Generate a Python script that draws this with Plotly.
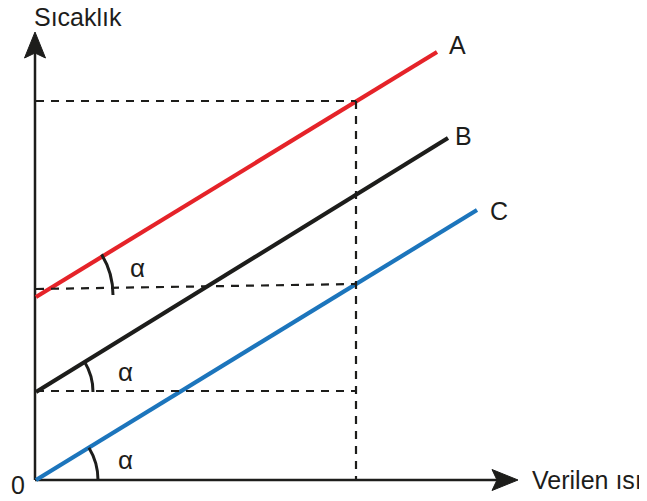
import math
import plotly.graph_objects as go

# Lines: given heat (x) vs temperature (y), one unit = 10 px of the drawing
line_names = ["A", "B", "C"]
line_colors = ["#E52329", "#1D1D1B", "#1C75BC"]
a_x = [0, 40.1]
a_y = [18.3, 42.8]
b_x = [0, 41.2]
b_y = [8.8, 34.2]
c_x = [0, 44.1]
c_y = [0, 27.0]

# reference heat and temperature levels for the dashed guides
q_mark = 32.0
level_top = 37.9
level_mid = [19.1, 19.6]
level_low = 8.9

x_title = "Verilen ısı"
y_title = "Sıcaklık"

fig = go.Figure()

for name, xs, ys, col in zip(line_names, [a_x, b_x, c_x], [a_y, b_y, c_y], line_colors):
    fig.add_trace(go.Scatter(x=xs, y=ys, mode="lines", name=name,
                             line=dict(color=col, width=4.2), hoverinfo="skip"))

dash = dict(color="#1D1D1B", width=2.2, dash="8px,7px")
guides = [
    ([0, q_mark], [level_top, level_top]),
    ([0, q_mark], level_mid),
    ([0, q_mark], [level_low, level_low]),
    ([q_mark, q_mark], [level_top, 0]),
]
for gx, gy in guides:
    fig.add_trace(go.Scatter(x=gx, y=gy, mode="lines", line=dash, hoverinfo="skip"))

shapes = []
ax_line = dict(color="#1D1D1B", width=2.5)
shapes.append(dict(type="line", x0=-0.1, y0=0, x1=-0.1, y1=43.0, line=ax_line, layer="below"))
shapes.append(dict(type="line", x0=-0.1, y0=0, x1=46.5, y1=0, line=ax_line, layer="below"))
# arrow heads
shapes.append(dict(type="path", path="M -0.1 44.8 L -1.15 42.2 L -0.1 42.7 L 0.95 42.2 Z",
                   fillcolor="#1D1D1B", line=dict(color="#1D1D1B", width=1)))
shapes.append(dict(type="path", path="M 48.2 0 L 45.6 1.05 L 46.1 0 L 45.6 -1.05 Z",
                   fillcolor="#1D1D1B", line=dict(color="#1D1D1B", width=1)))

# angle arcs (quadratic bezier approximation)
theta = math.atan(0.61)
for cx, cy, r in [(-0.1, 18.5, 7.8), (-0.1, 8.8, 5.8), (0, 0, 6.2)]:
    p0 = (cx + r * math.cos(theta), cy + r * math.sin(theta))
    ctrl = (cx + r, cy + r * math.tan(theta / 2))
    p2 = (cx + r, cy)
    shapes.append(dict(type="path",
                       path=f"M {p0[0]:.3f} {p0[1]:.3f} Q {ctrl[0]:.3f} {ctrl[1]:.3f} {p2[0]:.3f} {p2[1]:.3f}",
                       line=dict(color="#1D1D1B", width=3)))

font = dict(family="Liberation Sans, Arial, sans-serif", size=25, color="#1D1D1B")
annotations = [
    dict(x=-0.4, y=46.3, text=y_title, xanchor="left", yanchor="middle"),
    dict(x=49.4, y=0, text=x_title, xanchor="left", yanchor="middle"),
    dict(x=-1.8, y=-0.5, text="0", xanchor="center", yanchor="middle"),
    dict(x=41.1, y=43.5, text=line_names[0], xanchor="left", yanchor="middle"),
    dict(x=41.7, y=34.4, text=line_names[1], xanchor="left", yanchor="middle"),
    dict(x=45.2, y=26.9, text=line_names[2], xanchor="left", yanchor="middle"),
]
for ax_, ay_ in [(10.1, 21.2), (8.9, 10.8), (8.9, 2.0)]:
    annotations.append(dict(x=ax_, y=ay_, text="α", xanchor="center", yanchor="middle",
                            font=dict(family="Liberation Sans, Arial, sans-serif", size=26, color="#1D1D1B")))
for a in annotations:
    a.setdefault("font", font)
    a["showarrow"] = False

# ranges offset by the page's 8px body margin
fig.update_layout(
    width=647, height=501,
    margin=dict(l=0, r=0, t=0, b=0),
    paper_bgcolor="white", plot_bgcolor="white",
    showlegend=False,
    xaxis=dict(range=[-2.8, 61.9], visible=False, fixedrange=True),
    yaxis=dict(range=[-2.9, 47.2], visible=False, fixedrange=True),
    shapes=shapes,
    annotations=annotations,
)

fig.write_html("out.html", config={"displayModeBar": False})
